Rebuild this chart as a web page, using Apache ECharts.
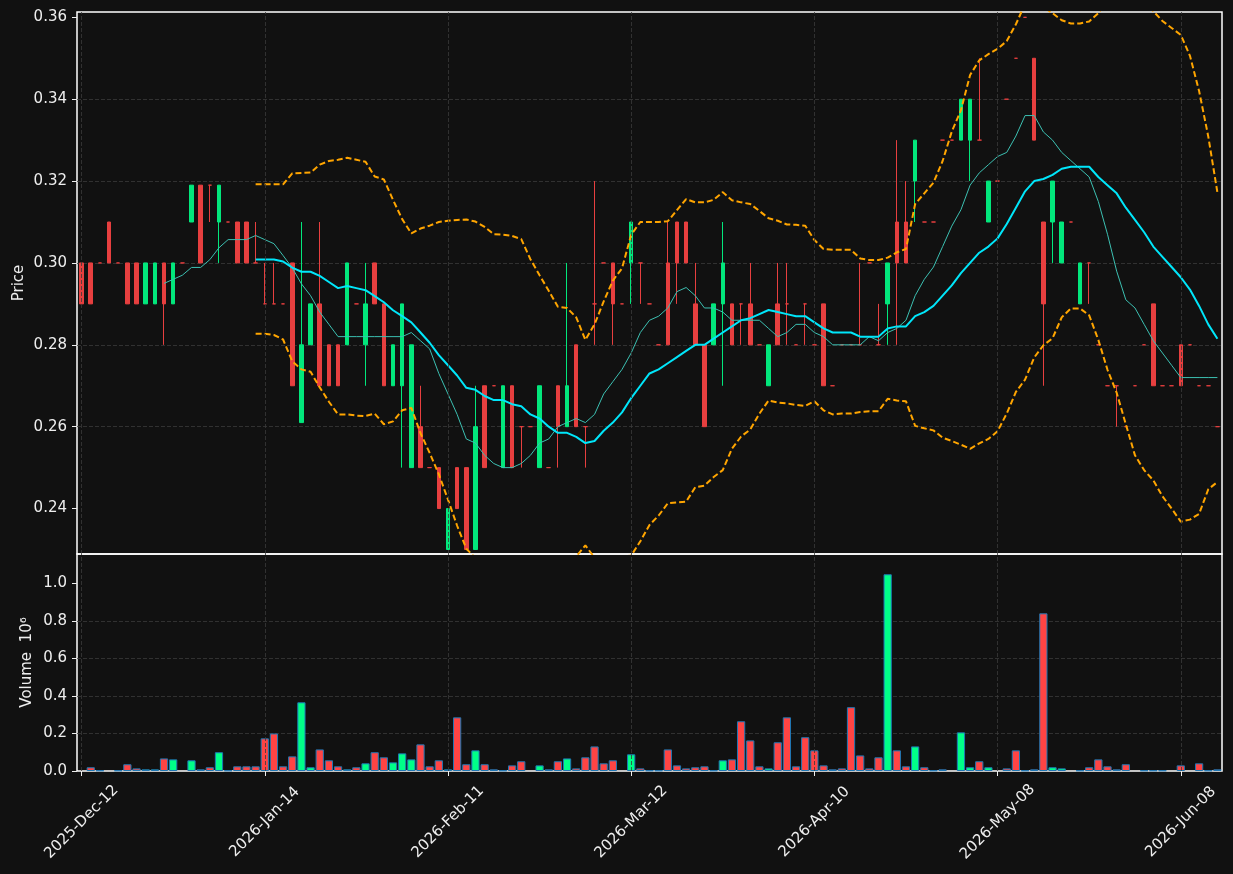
<!DOCTYPE html>
<html>
<head>
<meta charset="utf-8">
<title>Price / Volume</title>
<script src="https://cdn.jsdelivr.net/npm/echarts@6/dist/echarts.min.js"></script>
<style>
  html, body { margin: 0; padding: 0; background: #111111; }
  #chart { width: 1233px; height: 874px; }
</style>
</head>
<body>
<div id="chart"></div>
<script>
// x tick labels, one every 20 rows
const TICK_STEP = 20;
const tickLabels = ['2025-Dec-12', '2026-Jan-14', '2026-Feb-11', '2026-Mar-12', '2026-Apr-10', '2026-May-08', '2026-Jun-08'];
const priceTicks = [0.24, 0.26, 0.28, 0.30, 0.32, 0.34, 0.36];
const volumeTicks = [0, 0.2, 0.4, 0.6, 0.8, 1.0];

// OHLC
const opens = [
  .30, .30, .30, .31, .30, .30, .30, .29, .29, .30,
  .29, .30, .31, .319, .319, .31, .31, .31, .31, .30,
  .29, .29, .29, .30, .261, .28, .29, .28, .28, .28,
  .29, .28, .30, .29, .27, .27, .25, .26, .25, .25,
  .23, .25, .25, .23, .27, .27, .25, .27, .26, .26,
  .25, .25, .27, .26, .28, .26, .29, .30, .30, .29,
  .30, .30, .29, .28, .30, .31, .31, .29, .28, .28,
  .29, .29, .29, .29, .28, .27, .29, .29, .28, .29,
  .28, .29, .27, .28, .28, .28, .30, .28, .29, .31,
  .31, .32, .31, .31, .33, .33, .33, .33, .33, .31,
  .32, .34, .35, .36, .35, .31, .31, .30, .31, .29,
  .30, .28, .27, .27, .26, .27, .28, .29, .27, .27,
  .28, .28, .27, .27, .26
];
const highs = [
  .30, .30, .30, .31, .30, .30, .30, .30, .30, .30,
  .30, .30, .319, .319, .319, .319, .31, .31, .31, .31,
  .30, .30, .29, .30, .31, .29, .31, .28, .28, .30,
  .29, .30, .30, .29, .28, .29, .28, .27, .25, .25,
  .24, .25, .25, .27, .27, .27, .27, .27, .26, .26,
  .27, .25, .27, .30, .28, .26, .32, .30, .30, .29,
  .31, .30, .29, .28, .31, .31, .31, .30, .28, .29,
  .31, .29, .29, .30, .28, .28, .30, .30, .28, .29,
  .28, .29, .27, .28, .28, .30, .30, .29, .30, .33,
  .32, .33, .31, .31, .33, .33, .34, .34, .35, .32,
  .32, .34, .35, .36, .35, .31, .32, .31, .31, .30,
  .30, .28, .27, .27, .26, .27, .28, .29, .27, .27,
  .28, .28, .27, .27, .26
];
const lows = [
  .29, .29, .30, .30, .30, .29, .29, .29, .29, .28,
  .29, .30, .31, .30, .31, .30, .31, .30, .30, .30,
  .29, .29, .29, .27, .261, .28, .27, .27, .27, .28,
  .29, .27, .29, .27, .27, .25, .25, .25, .25, .24,
  .23, .24, .23, .23, .25, .27, .25, .25, .25, .26,
  .25, .25, .25, .26, .26, .25, .28, .30, .28, .29,
  .29, .29, .29, .28, .28, .29, .30, .28, .26, .28,
  .27, .28, .28, .28, .28, .27, .28, .28, .28, .28,
  .28, .27, .27, .28, .28, .28, .30, .28, .28, .28,
  .30, .31, .31, .31, .33, .33, .33, .32, .33, .31,
  .32, .34, .35, .36, .33, .27, .30, .30, .31, .29,
  .29, .28, .27, .26, .26, .27, .28, .27, .27, .27,
  .27, .28, .27, .27, .26
];
const closes = [
  .29, .29, .30, .30, .30, .29, .29, .30, .30, .29,
  .30, .30, .319, .30, .319, .319, .31, .30, .30, .30,
  .29, .29, .29, .27, .28, .29, .27, .27, .27, .30,
  .29, .29, .29, .27, .28, .29, .28, .25, .25, .24,
  .24, .24, .23, .26, .25, .27, .27, .25, .26, .26,
  .27, .25, .26, .27, .26, .26, .29, .30, .29, .29,
  .31, .30, .29, .28, .28, .30, .30, .28, .26, .29,
  .30, .28, .29, .28, .28, .28, .28, .29, .28, .29,
  .28, .27, .27, .28, .28, .28, .30, .28, .30, .30,
  .30, .33, .31, .31, .33, .33, .34, .34, .33, .32,
  .32, .34, .35, .36, .33, .29, .32, .31, .31, .30,
  .30, .28, .27, .27, .26, .27, .28, .27, .27, .27,
  .27, .28, .27, .27, .26
];
// volume, in millions
const volumes = [
  0, .02, .003, 0, .003, .036, .014, .009, .009, .067,
  .062, 0, .057, .009, .02, .10, .003, .025, .025, .025,
  .174, .20, .025, .078, .366, .02, .115, .057, .025, .009,
  .02, .041, .10, .073, .046, .094, .062, .142, .025, .057,
  .009, .286, .036, .11, .036, .009, .003, .03, .052, 0,
  .03, .009, .052, .067, .014, .073, .131, .041, .057, 0,
  .089, .014, .003, .003, .115, .03, .014, .02, .025, .003,
  .057, .062, .265, .163, .025, .014, .153, .286, .025, .18,
  .11, .03, .009, .014, .34, .083, .014, .073, 1.048, .11,
  .025, .131, .02, .003, .009, 0, .206, .02, .052, .02,
  0, .014, .11, .003, .009, .84, .02, .014, 0, .003,
  .02, .062, .025, .009, .036, 0, .003, .003, .003, 0,
  .03, 0, .041, .003, .009
];

// moving averages / bands as drawn (they start once their window is full)
const MA10_START = 9;
const ma10 = [
  .2950,
  .2960, .2970, .2989, .2989, .3008, .3037, .3057, .3057, .3057, .3067,
  .3057, .3047, .3018, .2988, .2949, .2920, .2880, .2850, .2820, .2820,
  .2820, .2820, .2820, .2820, .2820, .2820, .2830, .2810, .2790, .2730,
  .2680, .2630, .2570, .2560, .2530, .2510, .2500, .2500, .2510, .2530,
  .2560, .2570, .2600, .2610, .2620, .2610, .2630, .2680, .2710, .2740,
  .2780, .2830, .2860, .2870, .2890, .2930, .2940, .2920, .2890, .2890,
  .2880, .2860, .2860, .2860, .2860, .2840, .2820, .2830, .2850, .2850,
  .2830, .2820, .2800, .2800, .2800, .2800, .2820, .2810, .2830, .2840,
  .2860, .2920, .2960, .2990, .3040, .3090, .3130, .3190, .3220, .3240,
  .3260, .3270, .3310, .3360, .3360, .3320, .3300, .3270, .3250, .3230,
  .3210, .3150, .3070, .2980, .2910, .2890, .2850, .2810, .2780, .2750,
  .2720, .2720, .2720, .2720, .2720
];
const BAND_START = 19;
const ma20 = [
  .30085, .30085, .30085, .30035, .29885, .29785, .29785, .29685, .29535, .29385,
  .29435, .29385, .29335, .2919, .2904, .28845, .2870, .2855, .2830, .2805,
  .2775, .2750, .2725, .2695, .2690, .2675, .2665, .2665, .2655, .2650,
  .2630, .2620, .2600, .2585, .2585, .2575, .2560, .2565, .2590, .2610,
  .2635, .2670, .2700, .2730, .2740, .2755, .2770, .2785, .2800, .2800,
  .2815, .2830, .2845, .2860, .2865, .2875, .2885, .2880, .2875, .2870,
  .2870, .2855, .2840, .2830, .2830, .2830, .2820, .2820, .2820, .2840,
  .2845, .2845, .2870, .2880, .2895, .2920, .2945, .2975, .3000, .3025,
  .3040, .3060, .3095, .3135, .3175, .3200, .3205, .3215, .3230, .3235,
  .3235, .3235, .3210, .3190, .3170, .3135, .3105, .3075, .3040, .3015,
  .2990, .2965, .2935, .2895, .2850, .2815
];
const bbUpper = [
  .3192, .3192, .3192, .3192, .3219, .3220, .3221, .3240, .3249, .3252,
  .3257, .3252, .3247, .3211, .3204, .3154, .3107, .3072, .3084, .3091,
  .3100, .3103, .3105, .3106, .3101, .3088, .3070, .3069, .3066, .3058,
  .3009, .2970, .2932, .2893, .2890, .2867, .2812, .2850, .2906, .2957,
  .2987, .3069, .3100, .3100, .3100, .3102, .3129, .3156, .3148, .3148,
  .3154, .3173, .3153, .3148, .3144, .3127, .3109, .3103, .3094, .3093,
  .3091, .3056, .3034, .3032, .3032, .3032, .3011, .3007, .3007, .3013,
  .3026, .3034, .3144, .3170, .3196, .3249, .3321, .3373, .3459, .3495,
  .3510, .3523, .3542, .3583, .3633, .3631, .3625, .3610, .3593, .3585,
  .3585, .3590, .3610, .3641, .3657, .3664, .3680, .3656, .3615, .3591,
  .3574, .3557, .3506, .3420, .3309, .3172
];
const bbLower = [
  .2827, .2827, .2824, .2813, .2760, .2740, .2734, .2696, .2661, .2630,
  .2630, .2627, .2626, .2632, .2606, .2613, .2640, .2646, .2584, .2536,
  .2484, .2422, .2358, .2302, .2279, .2262, .2260, .2261, .2244, .2242,
  .2251, .2270, .2268, .2277, .2280, .2283, .2310, .2280, .2274, .2263,
  .2283, .2285, .2320, .2360, .2383, .2413, .2415, .2417, .2452, .2456,
  .2477, .2494, .2546, .2576, .2593, .2632, .2664, .2659, .2657, .2653,
  .2651, .2662, .2640, .2630, .2632, .2632, .2636, .2638, .2638, .2668,
  .2664, .2662, .2602, .2596, .2591, .2573, .2565, .2556, .2546, .2559,
  .2570, .2589, .2632, .2685, .2715, .2769, .2799, .2816, .2867, .2889,
  .2889, .2872, .2812, .2739, .2683, .2606, .2530, .2494, .2469, .2430,
  .2400, .2368, .2373, .2387, .2447, .2465
];

const BG = '#111111';
const TXT = '#eeeeee';
const GRID_C = '#3a3a3a';
const UP = '#02e77c', DOWN = '#e73f3f';
const VOL_UP = '#00ff88', VOL_DOWN = '#ff4444';
const FONT = 'DejaVu Sans';

const lead = (n, arr) => new Array(n).fill(null).concat(arr);
const rows = opens.map((_, i) => String(i));
const isUp = i => closes[i] > opens[i];

const candles = opens.map((o, i) => {
  const c = isUp(i) ? UP : DOWN;
  return {
    value: [o, closes[i], lows[i], highs[i]],
    itemStyle: { color: c, color0: c, borderColor: c, borderColor0: c, borderColorDoji: c }
  };
});
const volBars = volumes.map((v, i) => ({
  value: v,
  itemStyle: { color: isUp(i) ? VOL_UP : VOL_DOWN, borderColor: '#1f77b4', borderWidth: v > 0 ? 1 : 0 }
}));

const gridDash = { color: GRID_C, type: [4, 2], width: 0.8 };
function vGrid(gi) {
  return {
    type: 'line', xAxisIndex: gi, yAxisIndex: gi, data: [], z: 1, silent: true,
    markLine: {
      silent: true, symbol: ['none', 'none'], label: { show: false }, animation: false,
      lineStyle: gridDash,
      data: tickLabels.map((_, k) => ({ xAxis: k * TICK_STEP }))
    }
  };
}
const labelStyle = { color: TXT, fontSize: 15, fontFamily: FONT };
const bandStyle = { width: 2, color: '#ffa500', type: [6, 3] };

const chart = echarts.init(document.getElementById('chart'));
chart.setOption({
  backgroundColor: BG,
  animation: false,
  grid: [
    { left: 77, top: 12, width: 1145, height: 542, show: true, borderColor: '#ffffff', borderWidth: 1.5 },
    { left: 77, top: 554, width: 1145, height: 217, show: true, borderColor: '#ffffff', borderWidth: 1.5 }
  ],
  xAxis: [
    {
      type: 'category', gridIndex: 0, data: rows,
      axisLine: { show: false }, axisTick: { show: false }, axisLabel: { show: false }, splitLine: { show: false }
    },
    {
      type: 'category', gridIndex: 1, data: rows,
      axisLine: { show: false },
      axisTick: {
        show: true, alignWithLabel: true, length: 5,
        interval: i => i % TICK_STEP === 0, lineStyle: { color: TXT }
      },
      axisLabel: Object.assign({
        interval: i => i % TICK_STEP === 0,
        formatter: (v, i) => tickLabels[i / TICK_STEP],
        rotate: 45, align: 'center', verticalAlign: 'middle', margin: 51
      }, labelStyle),
      splitLine: { show: false }
    }
  ],
  yAxis: [
    {
      type: 'value', gridIndex: 0, min: 0.2289, max: 0.3613,
      minInterval: 0.02, maxInterval: 0.02,
      name: 'Price', nameLocation: 'middle', nameRotate: 90, nameGap: 50, nameMoveOverlap: false,
      nameTextStyle: labelStyle,
      axisLine: { show: false },
      axisTick: { show: true, length: 5, customValues: priceTicks, lineStyle: { color: TXT } },
      axisLabel: Object.assign({ customValues: priceTicks, formatter: v => v.toFixed(2), margin: 10 }, labelStyle),
      splitLine: { show: true, showMinLine: false, showMaxLine: false, lineStyle: gridDash }
    },
    {
      type: 'value', gridIndex: 1, min: 0, max: 1.156,
      minInterval: 0.2, maxInterval: 0.2,
      name: 'Volume  10\u2076', nameLocation: 'middle', nameRotate: 90, nameGap: 42, nameMoveOverlap: false,
      nameTextStyle: labelStyle,
      axisLine: { show: false },
      axisTick: { show: true, length: 5, customValues: volumeTicks, lineStyle: { color: TXT } },
      axisLabel: Object.assign({ customValues: volumeTicks, formatter: v => v.toFixed(1), margin: 10 }, labelStyle),
      splitLine: { show: true, showMinLine: false, showMaxLine: false, lineStyle: gridDash }
    }
  ],
  series: [
    vGrid(0),
    vGrid(1),
    {
      type: 'candlestick', xAxisIndex: 0, yAxisIndex: 0, barWidth: 4, z: 3,
      itemStyle: { borderWidth: 1 },
      data: candles
    },
    {
      type: 'line', xAxisIndex: 0, yAxisIndex: 0, z: 4, symbol: 'none',
      data: lead(MA10_START, ma10), lineStyle: { width: 1, color: '#3cc0b2' }
    },
    {
      type: 'line', xAxisIndex: 0, yAxisIndex: 0, z: 4, symbol: 'none',
      data: lead(BAND_START, ma20), lineStyle: { width: 2, color: '#00e6fa' }
    },
    {
      type: 'line', xAxisIndex: 0, yAxisIndex: 0, z: 4, symbol: 'none',
      data: lead(BAND_START, bbUpper), lineStyle: bandStyle
    },
    {
      type: 'line', xAxisIndex: 0, yAxisIndex: 0, z: 4, symbol: 'none',
      data: lead(BAND_START, bbLower), lineStyle: bandStyle
    },
    {
      type: 'bar', xAxisIndex: 1, yAxisIndex: 1, barWidth: '90%', z: 3,
      data: volBars
    }
  ]
});
</script>
</body>
</html>
